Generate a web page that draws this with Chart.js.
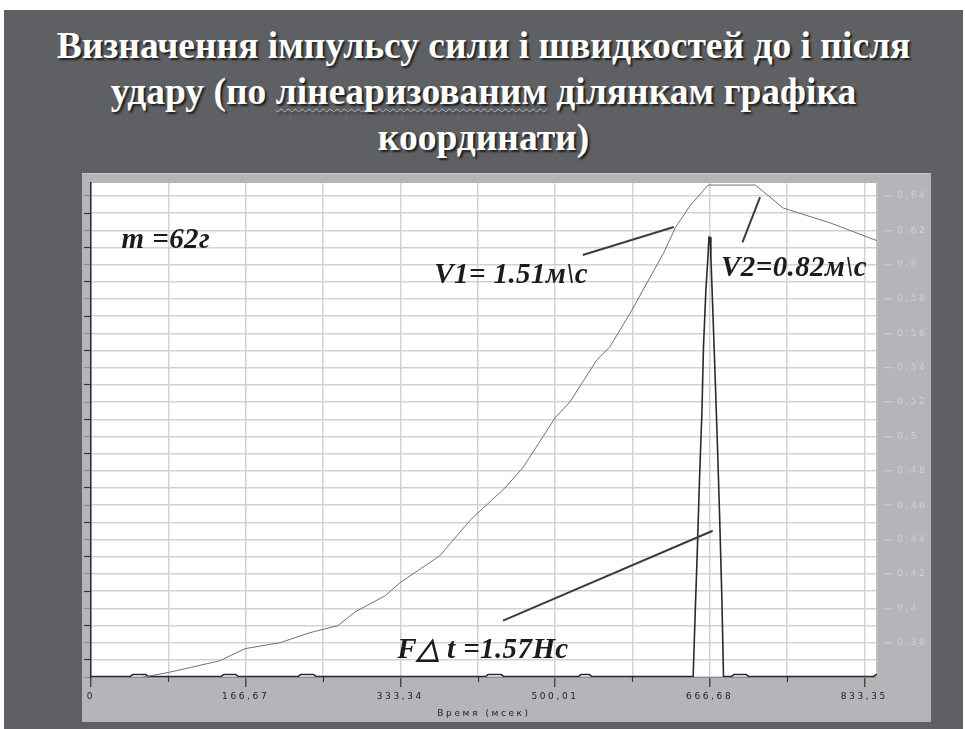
<!DOCTYPE html>
<html>
<head>
<meta charset="utf-8">
<script src="https://cdn.jsdelivr.net/npm/chart.js@4.4.0/dist/chart.umd.min.js"></script>
<style>
html, body { margin: 0; padding: 0; background: #fff; width: 965px; height: 729px; overflow: hidden; }
#slide { position: absolute; left: 4px; top: 10px; width: 959px; height: 719px; background: #5f6063; }
#title { position: absolute; left: 0; top: 13px; width: 959px; text-align: center; color: #fff;
  font: bold 37.5px/46px "Liberation Serif", serif; text-shadow: 2px 2px 2px #1e1e1e; }
#title .sp { text-decoration: underline wavy rgba(255,255,255,0.55) 1px; text-underline-offset: 4px; }
#panel { position: absolute; left: 78px; top: 163px; width: 849px; height: 549px; background: #b4b5b8;
  border-top: 1px solid #c9cacc; box-sizing: border-box; }
#chart { position: absolute; left: 0; top: -1px; }
</style>
</head>
<body>
<div id="slide">
  <div id="title">Визначення імпульсу сили і швидкостей до і після<br>удару (по <span class="sp">лінеаризованим</span> ділянкам графіка<br>координати)</div>
  <div id="panel"><canvas id="chart" width="849" height="549"></canvas></div>
</div>
<script>
// координата (права вісь)
const coordTimeMs = [0, 42, 83, 107, 139, 166, 204, 236, 266, 285, 317, 333, 376, 409, 446, 466, 487, 500, 516, 545, 559, 583, 599, 617, 630, 646, 665, 716, 746, 797, 851];
const coordValues = [0.358, 0.3585, 0.3626, 0.3655, 0.3695, 0.3765, 0.38, 0.3858, 0.3899, 0.398, 0.4073, 0.4149, 0.4306, 0.4515, 0.470, 0.4823, 0.4998, 0.5108, 0.520, 0.5445, 0.552, 0.5736, 0.5893, 0.6067, 0.6218, 0.6346, 0.6463, 0.6463, 0.6329, 0.6242, 0.6131];

// сила, Н (прихована вісь)
const forceTimeMs = [0, 42, 45, 59, 62, 140, 143, 156, 159, 223, 226, 240, 243, 425, 428, 442, 445, 525, 528, 537, 540,
  648.9, 651.1, 653.5, 655.7, 658.3, 660.0, 662.6, 664.8, 665.9, 667.2, 668.0, 670.2, 672.7, 675.1, 677.3, 679.8, 681.6,
  690, 693, 706, 709, 843, 847];
const forceValues = [0, 0, 0.45, 0.45, 0, 0, 0.45, 0.45, 0, 0, 0.45, 0.45, 0, 0, 0.45, 0.45, 0, 0, 0.45, 0.45, 0,
  0, 14.2, 28.9, 43.8, 58.7, 73.4, 86.1, 93.4, 97.9, 97.9, 93.4, 81, 66.1, 51.2, 36.5, 17.7, 0,
  0, 0.45, 0.45, 0, 0, 0.5];

const xMajorTicks = [0, 166.67, 333.34, 500.01, 666.68, 833.35];
const xMajorLabels = ['0', '166,67', '333,34', '500,01', '666,68', '833,35'];
const xMinorTicks = [83.335, 250.005, 416.675, 583.345, 750.015];
const yGridTicks = [0.36, 0.37, 0.38, 0.39, 0.40, 0.41, 0.42, 0.43, 0.44, 0.45, 0.46, 0.47, 0.48, 0.49, 0.50,
  0.51, 0.52, 0.53, 0.54, 0.55, 0.56, 0.57, 0.58, 0.59, 0.60, 0.61, 0.62, 0.63, 0.64];
const yLabels = ['0,38', '0,4', '0,42', '0,44', '0,46', '0,48', '0,5', '0,52', '0,54', '0,56', '0,58', '0,6', '0,62', '0,64'];

// підписи на графіку [текст, t, значення]
const notes = [
  ['m =62г', 33, 0.6097],
  ['V1= 1.51м\\с', 370, 0.5893],
  ['V2=0.82м\\с', 679, 0.5934],
  ['F\u25B3 t =1.57Нс', 330, 0.3713]
];
// лінії-вказівники [t1, v1, t2, v2]
const pointers = [
  [530, 0.6056, 628, 0.6219],
  [702, 0.6130, 721, 0.6393],
  [444, 0.3928, 670, 0.4451]
];

const allXTicks = [...xMajorTicks, ...xMinorTicks].sort((a, b) => a - b);
const yLabelFor = v => {
  const i = Math.round((v - 0.38) / 0.02 * 100) / 100;
  return Number.isInteger(i) && i >= 0 && i < yLabels.length ? yLabels[i] : '';
};

const backdrop = {
  id: 'backdrop',
  beforeDraw(c) {
    const { ctx, chartArea: a } = c;
    ctx.save();
    ctx.fillStyle = '#fff';
    ctx.fillRect(a.left, a.top, a.right - a.left, a.bottom - a.top);
    ctx.restore();
    ctx.letterSpacing = '2.6px';
  }
};

const extras = {
  id: 'extras',
  afterDraw(c) {
    const { ctx } = c;
    const x = c.scales.x, y = c.scales.y;
    ctx.save();
    ctx.letterSpacing = '0px';
    // дрібні поділки осі часу
    ctx.strokeStyle = '#333';
    ctx.lineWidth = 1.2;
    const b = c.chartArea.bottom;
    xMinorTicks.forEach(t => {
      const px = Math.round(x.getPixelForValue(t)) + 0.5;
      ctx.beginPath(); ctx.moveTo(px, b); ctx.lineTo(px, b + 5); ctx.stroke();
    });
    ctx.strokeStyle = '#3c3c3c';
    ctx.lineWidth = 2;
    pointers.forEach(p => {
      ctx.beginPath();
      ctx.moveTo(x.getPixelForValue(p[0]), y.getPixelForValue(p[1]));
      ctx.lineTo(x.getPixelForValue(p[2]), y.getPixelForValue(p[3]));
      ctx.stroke();
    });
    ctx.fillStyle = '#1c1c1c';
    ctx.font = 'italic bold 29px "Liberation Serif", serif';
    ctx.letterSpacing = '0.4px';
    ctx.textBaseline = 'alphabetic';
    notes.forEach(n => ctx.fillText(n[0], x.getPixelForValue(n[1]), y.getPixelForValue(n[2])));
    ctx.restore();
  }
};

new Chart(document.getElementById('chart'), {
  type: 'line',
  data: {
    datasets: [{
      label: 'Координата',
      data: coordTimeMs.map((t, i) => ({ x: t, y: coordValues[i] })),
      yAxisID: 'y',
      borderColor: '#727272',
      borderWidth: 1,
      pointRadius: 0,
      tension: 0
    }, {
      label: 'Сила',
      data: forceTimeMs.map((t, i) => ({ x: t, y: forceValues[i] })),
      yAxisID: 'yF',
      borderColor: '#2a2a2a',
      borderWidth: 1.6,
      pointRadius: 0,
      tension: 0
    }]
  },
  options: {
    responsive: false,
    animation: false,
    events: [],
    layout: { padding: { top: 10, left: 0, right: 0, bottom: 0 } },
    plugins: { legend: { display: false }, tooltip: { enabled: false } },
    scales: {
      x: {
        type: 'linear', min: 0, max: 847,
        afterBuildTicks: s => { s.ticks = allXTicks.map(v => ({ value: v })); },
        afterFit: s => { s.height = 45; },
        grid: {
          color: '#d2d2d2', lineWidth: 1.5, tickLength: 10, tickWidth: 1.2,
          tickColor: ctx => xMajorTicks.includes(ctx.tick.value) ? '#333' : 'rgba(0,0,0,0)'
        },
        border: { color: '#8a8a8a', width: 1 },
        ticks: {
          autoSkip: false, maxRotation: 0, padding: 4, color: '#1e1e1e',
          font: { family: 'DejaVu Sans', size: 9 },
          callback: v => { const i = xMajorTicks.indexOf(v); return i >= 0 ? xMajorLabels[i] : ''; }
        },
        title: {
          display: true, text: 'Время (мсек)', color: '#1e1e1e',
          font: { family: 'DejaVu Sans', size: 9 }, padding: { top: 0, bottom: 3 }
        }
      },
      yL: {
        position: 'left', min: 0.36, max: 0.6475,
        afterBuildTicks: s => { s.ticks = yGridTicks.map(v => ({ value: v })); },
        afterFit: s => { s.width = 9; },
        grid: {
          drawOnChartArea: false, tickLength: 7, tickWidth: 1.2,
          tickColor: ctx => Math.round(ctx.tick.value * 100) % 2 ? '#333' : '#8c8c8c'
        },
        border: { color: '#2c2c2c', width: 1.5 },
        ticks: { display: false }
      },
      y: {
        position: 'right', min: 0.36, max: 0.6475,
        afterBuildTicks: s => { s.ticks = yGridTicks.map(v => ({ value: v })); },
        afterFit: s => { s.width = 54; },
        grid: {
          color: '#d2d2d2', lineWidth: 1.5, tickLength: 16, tickWidth: 1,
          tickBorderDash: [0, 6, 10, 40],
          tickColor: ctx => yLabelFor(ctx.tick.value) ? '#cdced1' : 'rgba(0,0,0,0)'
        },
        border: { color: '#c4c4c4', width: 1.5 },
        ticks: {
          autoSkip: false, padding: 4, color: '#cfd0d3',
          font: { family: 'DejaVu Sans', size: 9 },
          callback: v => yLabelFor(v)
        }
      },
      yF: { display: false, min: -0.1, max: 110 }
    }
  },
  plugins: [backdrop, extras]
});
</script>
</body>
</html>
